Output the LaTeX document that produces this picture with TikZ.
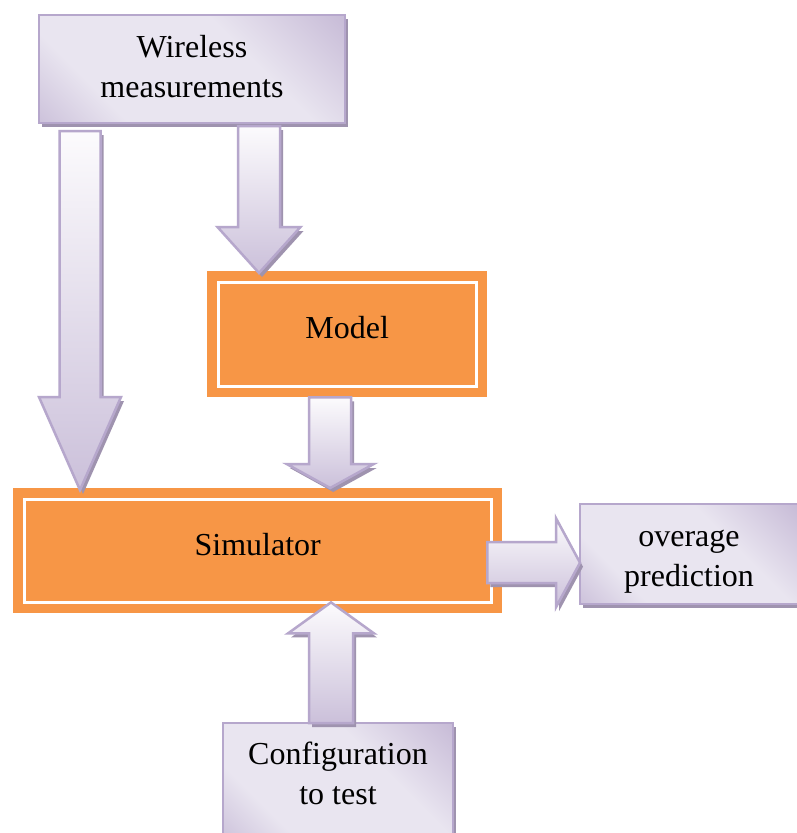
\documentclass[tikz,border=0pt]{standalone}
\usepackage{fontspec}
\setmainfont{Liberation Serif}
\usetikzlibrary{calc,shadows}
\definecolor{orangeF}{HTML}{F79646}
\definecolor{lavD}{HTML}{B2A1C7}
\definecolor{lavL}{HTML}{E9E5F0}
\definecolor{lavEdge}{HTML}{B6A7CC}
\definecolor{shadowC}{HTML}{9F93AF}
\definecolor{arrTop}{HTML}{FCFBFD}
\definecolor{arrBot}{HTML}{CBC0DA}
\pgfdeclarehorizontalshading{lavshade}{100bp}{color(0bp)=(lavD); color(30bp)=(lavL); color(62bp)=(lavL); color(100bp)=(lavD)}
\tikzset{
  txt/.style={font=\fontsize{32}{40}\selectfont, align=center, text=black, inner sep=0pt},
  lavbox/.style={draw=lavEdge, line width=2pt, shade, shading=lavshade, shading angle=45,
    inner sep=0pt, anchor=north west,
    drop shadow={shadow xshift=3pt, shadow yshift=-4pt, fill=shadowC, opacity=1}},
  orbox/.style={fill=orangeF, anchor=north west, inner sep=0pt,
    path picture={\draw[white,line width=3pt]
      ([shift={(11pt,-11pt)}]path picture bounding box.north west) rectangle
      ([shift={(-11pt,11pt)}]path picture bounding box.south east);}},
  barrow/.style={draw=lavEdge, line width=2.5pt, line join=miter, top color=arrTop, bottom color=arrBot,
    drop shadow={shadow xshift=3pt, shadow yshift=-4pt, fill=shadowC, opacity=1}}
}
% tail, tip, half shaft, half head, head length
\newcommand\blockarr[5]{%
  \coordinate (bah) at ($(#2)!#5!(#1)$);
  \path[barrow] ($(#1)!#3!90:(#2)$) -- ($(bah)!#3!90:(#2)$) -- ($(bah)!#4!90:(#2)$) -- (#2)
    -- ($(bah)!#4!-90:(#2)$) -- ($(bah)!#3!-90:(#2)$) -- ($(#1)!#3!-90:(#2)$) -- cycle;}
\begin{document}
\begin{tikzpicture}[x=1pt,y=-1pt]
\useasboundingbox[fill=white] (0,0) rectangle (797,833);
\node[lavbox, minimum width=306pt, minimum height=108pt] (wm) at (38,14) {};
\node[orbox, minimum width=280pt, minimum height=126pt] (model) at (207,271) {};
\node[orbox, minimum width=489pt, minimum height=125pt] (sim) at (13,488) {};
\node[lavbox, minimum width=218pt, minimum height=100pt] (ov) at (579,503) {};
\node[lavbox, minimum width=230pt, minimum height=118pt] (cf) at (222,722) {};
\node[txt] (wmtx) at ($(wm.center)+(0,-2.5)$) {Wireless\\measurements};
\node[txt] (modeltx) at ($(model.center)+(0,-7)$) {Model};
\node[txt] (simtx) at ($(sim.center)+(0,-6)$) {Simulator};
\node[txt] (ovtx) at ($(ov.center)+(0,8)$) {overage\\prediction};
\node[txt] (cftx) at ($(cf.center)+(0,-9)$) {Configuration\\to test};
% arrows
\coordinate (a1t) at ($(wm.south west)+(42,7)$);
\coordinate (a1h) at ($(a1t |- sim.north)+(0,2)$);
\blockarr{a1t}{a1h}{20.5pt}{41pt}{93pt}
\coordinate (a2t) at ($(wm.south west)+(221,2)$);
\coordinate (a2h) at ($(a2t |- model.north)+(0,2)$);
\blockarr{a2t}{a2h}{21pt}{41.5pt}{46pt}
\coordinate (a3t) at ($(model.south)+(-17,0)$);
\coordinate (a3h) at (a3t |- sim.north);
\blockarr{a3t}{a3h}{21pt}{43.5pt}{24pt}
\coordinate (a4t) at ($(sim.east)+(-15,12)$);
\coordinate (a4h) at ($(ov.west |- a4t)+(1,0)$);
\blockarr{a4t}{a4h}{20.5pt}{44.5pt}{24pt}
\coordinate (a5t) at ($(cf.north)+(-7,1)$);
\coordinate (a5h) at ($(a5t |- sim.south)+(0,-11)$);
\blockarr{a5t}{a5h}{22pt}{43pt}{31pt}
\end{tikzpicture}
\end{document}
